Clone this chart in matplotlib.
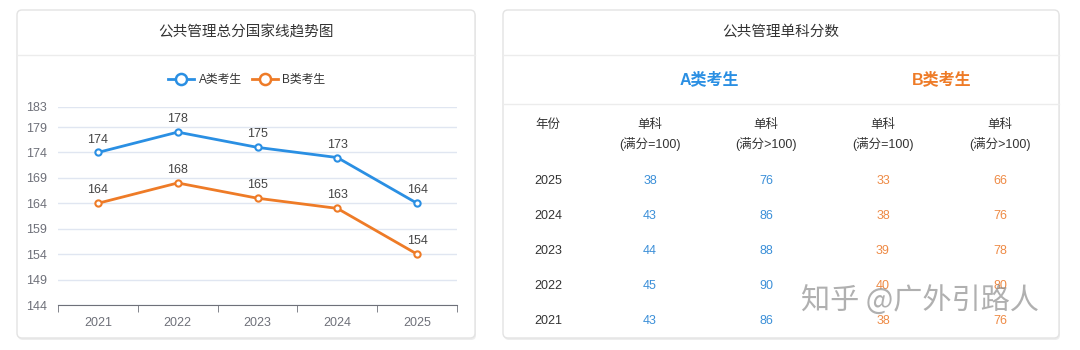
import matplotlib.pyplot as plt
from matplotlib.patches import FancyBboxPatch
from matplotlib.lines import Line2D

plt.rcParams['font.family'] = ['Liberation Sans', 'Noto Sans CJK SC', 'DejaVu Sans']

# data
years = ['2021', '2022', '2023', '2024', '2025']
total_a = [174, 178, 175, 173, 164]
total_b = [164, 168, 165, 163, 154]
y_ticks = [144, 149, 154, 159, 164, 169, 174, 179, 183]

table_years = ['2025', '2024', '2023', '2022', '2021']
a_100 = [38, 43, 44, 45, 43]
a_over = [76, 86, 88, 90, 86]
b_100 = [33, 38, 39, 40, 38]
b_over = [66, 76, 78, 80, 76]

BLUE = '#2a8fe3'
ORANGE = '#ee7b27'
TBLUE = '#3b8fd8'
TORANGE = '#ee8a45'
GRAY = '#6e7079'
W, H = 1080, 350

fig = plt.figure(figsize=(W / 100, H / 100), dpi=100)
fig.patch.set_facecolor('white')

# background axes in pixel coordinates
bg = fig.add_axes([0, 0, 1, 1])
bg.set_xlim(0, W)
bg.set_ylim(H, 0)
bg.axis('off')


def card(x0, x1, title):
    bg.add_patch(FancyBboxPatch((x0 + 1, 11 + 1), x1 - x0, 328, boxstyle='round,pad=0,rounding_size=5',
                                facecolor='#ededed', edgecolor='none', zorder=0))
    bg.add_patch(FancyBboxPatch((x0, 10), x1 - x0, 328, boxstyle='round,pad=0,rounding_size=5',
                                facecolor='white', edgecolor='#e3e3e3', lw=1, zorder=1))
    bg.plot([x0, x1], [55, 55], color='#ececec', lw=1, zorder=2)
    bg.text((x0 + x1) / 2, 32, title, ha='center', va='center', fontsize=10.5, color='#333333', zorder=3)


card(17, 475, '公共管理总分国家线趋势图')
card(503, 1059, '公共管理单科分数')

# right table
bg.text(709, 79, 'A类考生', ha='center', va='center', fontsize=11.5, fontweight='bold', color=BLUE, zorder=3)
bg.text(942, 79, 'B类考生', ha='center', va='center', fontsize=11.5, fontweight='bold', color=ORANGE, zorder=3)
bg.plot([503, 1059], [104, 104], color='#ececec', lw=1, zorder=2)

FS = 9
col_x = [548, 650, 766, 883, 1000]
bg.text(col_x[0], 125, '年份', ha='center', va='center', fontsize=FS, color='#333333', zorder=3)
for cx, sub in zip(col_x[1:], ['(满分=100)', '(满分>100)', '(满分=100)', '(满分>100)']):
    bg.text(cx, 125, '单科', ha='center', va='center', fontsize=FS, color='#333333', zorder=3)
    bg.text(cx, 144, sub, ha='center', va='center', fontsize=FS, color='#333333', zorder=3)

row_y = [181, 216, 251, 286, 321]
for i, ry in enumerate(row_y):
    bg.text(col_x[0], ry, table_years[i], ha='center', va='center', fontsize=FS, color='#333333', zorder=3)
    bg.text(col_x[1], ry, str(a_100[i]), ha='center', va='center', fontsize=FS, color=TBLUE, zorder=3)
    bg.text(col_x[2], ry, str(a_over[i]), ha='center', va='center', fontsize=FS, color=TBLUE, zorder=3)
    bg.text(col_x[3], ry, str(b_100[i]), ha='center', va='center', fontsize=FS, color=TORANGE, zorder=3)
    bg.text(col_x[4], ry, str(b_over[i]), ha='center', va='center', fontsize=FS, color=TORANGE, zorder=3)

# watermark
bg.text(920, 302, '知乎 @广外引路人', ha='center', va='center', fontsize=21,
        family=['Noto Sans CJK SC', 'DejaVu Sans'], color='#8f8f8f', alpha=0.7, zorder=5)

# line chart
left, right, top, bottom = 58, 457, 106.7, 305
ax = fig.add_axes([left / W, 1 - bottom / H, (right - left) / W, (bottom - top) / H])
ax.set_facecolor('none')
x = list(range(len(years)))
for vals, c in [(total_a, BLUE), (total_b, ORANGE)]:
    ax.plot(x, vals, color=c, lw=2, marker='o', markersize=4.5, markerfacecolor='white',
            markeredgewidth=1.5, zorder=3, clip_on=False)
    for xi, v in zip(x, vals):
        ax.annotate(str(v), (xi, v), xytext=(0, 5), textcoords='offset points', ha='center',
                    va='bottom', fontsize=9, color='#444444')

ax.set_xlim(-0.5, len(years) - 0.5)
ax.set_ylim(y_ticks[0], y_ticks[-1])
ax.set_yticks(y_ticks)
ax.yaxis.grid(True, color='#e0e6f1', lw=1)
ax.set_axisbelow(True)
ax.tick_params(axis='y', length=0, labelcolor=GRAY, labelsize=9, pad=8)
ax.set_xticks(x)
ax.set_xticklabels(years)
ax.set_xticks([i - 0.5 for i in range(len(years) + 1)], minor=True)
ax.tick_params(axis='x', which='major', length=0, labelcolor=GRAY, labelsize=9, pad=9)
ax.tick_params(axis='x', which='minor', length=5, color=GRAY, direction='out')
for s in ['top', 'right', 'left']:
    ax.spines[s].set_visible(False)
ax.spines['bottom'].set_color(GRAY)

handles = [Line2D([], [], color=BLUE, lw=2, marker='o', markersize=8, markerfacecolor='white', markeredgewidth=1.8),
           Line2D([], [], color=ORANGE, lw=2, marker='o', markersize=8, markerfacecolor='white', markeredgewidth=1.8)]
fig.legend(handles, ['A类考生', 'B类考生'], loc='center', bbox_to_anchor=(247 / W, 1 - 80 / H), ncol=2,
           frameon=False, fontsize=8.5, handlelength=2.2, columnspacing=0.8, handletextpad=0.4,
           labelcolor='#333333')

fig.savefig('out.png', dpi=100)
